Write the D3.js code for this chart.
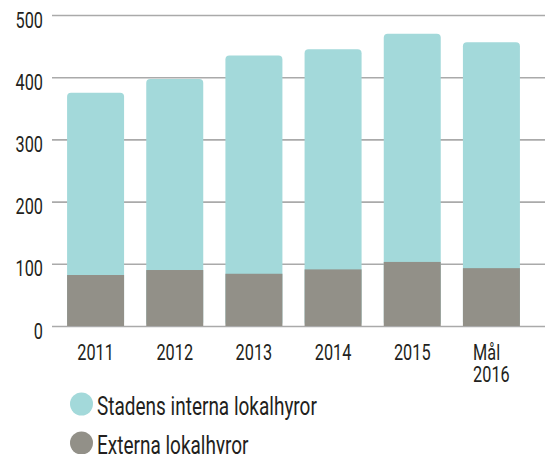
<!DOCTYPE html>
<html>
<head>
<meta charset="utf-8">
<script src="https://cdn.jsdelivr.net/npm/d3@7"></script>
<style>
  body { margin: 0; background: #fff; }
  svg text { font-family: Roboto, "Liberation Sans", sans-serif; fill: #231f20; }
</style>
</head>
<body>
<div id="chart"></div>
<script>
var categories = ["2011", "2012", "2013", "2014", "2015", "Mål\n2016"];
var externa = [82, 90, 84, 91, 103, 93];
var interna = [293, 307, 351, 354, 367, 363];
var yTicks = [0, 100, 200, 300, 400, 500];
var legendLabels = ["Stadens interna lokalhyror", "Externa lokalhyror"];
var colors = ["#a3d9da", "#929088"];

var W = 545, H = 454;
var sx = 0.74; // narrow the type, the original uses a condensed face

var svg = d3.select("#chart")
	.append("svg")
		.attr("width", W)
		.attr("height", H);

var x = d3.scaleBand()
	.domain(categories)
	.range([56, 531])
	.paddingInner(0.28)
	.paddingOuter(0.14);

var y = d3.scaleLinear()
	.domain([0, 500])
	.range([326, 15]);

// y axis with gridlines
var yAxisCall = d3.axisLeft(y)
	.tickValues(yTicks)
	.tickSize(-(W - 52))
	.tickPadding(9);

var yAxis = svg.append("g")
	.attr("transform", "translate(52,0)")
	.call(yAxisCall);
yAxis.select(".domain").remove();
yAxis.selectAll(".tick line")
	.attr("stroke", "#aaaaaa")
	.attr("stroke-width", 1.6);
yAxis.selectAll(".tick text")
	.attr("font-size", "22px")
	.attr("x", -9 / sx)
	.attr("dy", null)
	.attr("y", 12)
	.attr("transform", "scale(" + sx + ",1)");

// bars: interna on top (rounded), externa at bottom
var bars = svg.append("g");
categories.forEach(function(c, i){
	var total = externa[i] + interna[i];
	bars.append("rect")
		.attr("x", x(c))
		.attr("width", x.bandwidth())
		.attr("y", y(total))
		.attr("height", y(0) - y(total))
		.attr("rx", 4)
		.attr("fill", colors[0]);
	bars.append("rect")
		.attr("x", x(c))
		.attr("width", x.bandwidth())
		.attr("y", y(externa[i]))
		.attr("height", y(0) - y(externa[i]))
		.attr("fill", colors[1]);
});

// x labels
var xLabels = svg.append("g");
categories.forEach(function(c){
	var lines = c.split("\n");
	var t = xLabels.append("text")
		.attr("font-size", "22px")
		.attr("y", 360);
	lines.forEach(function(l, j){
		t.append("tspan")
			.attr("x", 0)
			.attr("dy", j === 0 ? 0 : 22)
			.text(l);
	});
	var w = t.node().getBBox().width * sx;
	t.attr("transform", "translate(" + (x(c) + x.bandwidth()/2 - w/2) + ",0) scale(" + sx + ",1)");
});

// legend
var lsx = 0.76;
var legend = svg.append("g");
legendLabels.forEach(function(l, i){
	var cy = 404 + i * 39;
	legend.append("circle")
		.attr("cx", 81.5)
		.attr("cy", cy)
		.attr("r", 11.5)
		.attr("fill", colors[i]);
	legend.append("text")
		.attr("x", 97 / lsx)
		.attr("y", cy + 11)
		.attr("font-size", "25px")
		.attr("transform", "scale(" + lsx + ",1)")
		.text(l);
});
</script>
</body>
</html>
